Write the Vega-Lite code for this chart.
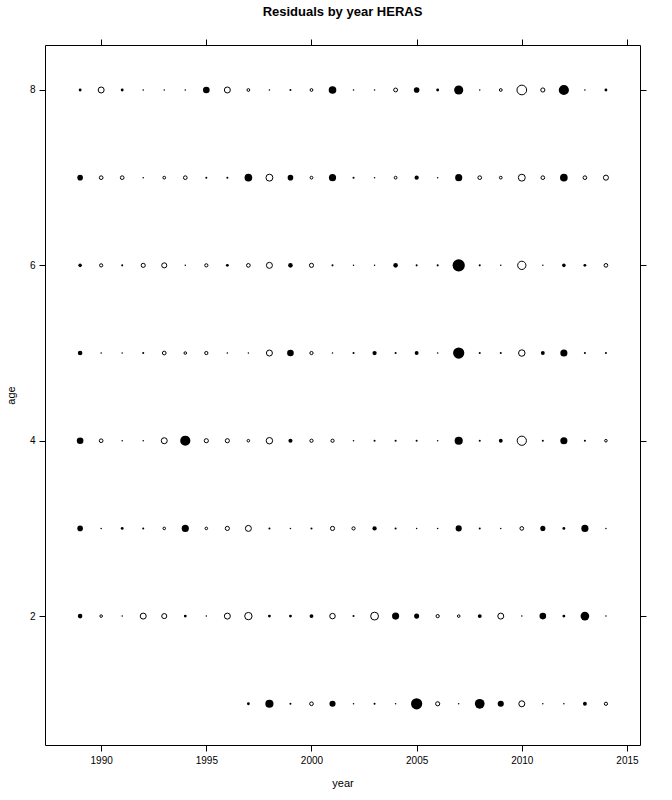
{
  "$schema": "https://vega.github.io/schema/vega-lite/v6.json",
  "width": 595,
  "height": 700,
  "autosize": {"type": "none"},
  "padding": {"left": 45, "top": 45, "right": 32, "bottom": 55},
  "title": {"text": "Residuals by year HERAS", "font": "Liberation Sans", "fontSize": 13, "fontWeight": "bold", "color": "black", "anchor": "middle", "offset": 20},
  "data": {"values": [
    {"year":1989,"age":8,"res":0.28},{"year":1990,"age":8,"res":-0.65},{"year":1991,"age":8,"res":0.28},{"year":1992,"age":8,"res":0.15},{"year":1993,"age":8,"res":0.15},{"year":1994,"age":8,"res":0.15},{"year":1995,"age":8,"res":0.65},{"year":1996,"age":8,"res":-0.65},{"year":1997,"age":8,"res":-0.3},{"year":1998,"age":8,"res":0.15},{"year":1999,"age":8,"res":0.2},{"year":2000,"age":8,"res":-0.3},{"year":2001,"age":8,"res":0.75},{"year":2002,"age":8,"res":0.15},{"year":2003,"age":8,"res":0.15},{"year":2004,"age":8,"res":-0.42},{"year":2005,"age":8,"res":0.55},{"year":2006,"age":8,"res":0.28},{"year":2007,"age":8,"res":0.9},{"year":2008,"age":8,"res":0.15},{"year":2009,"age":8,"res":-0.3},{"year":2010,"age":8,"res":-1.05},{"year":2011,"age":8,"res":-0.45},{"year":2012,"age":8,"res":1.0},{"year":2013,"age":8,"res":0.15},{"year":2014,"age":8,"res":0.28},
    {"year":1989,"age":7,"res":0.55},{"year":1990,"age":7,"res":-0.4},{"year":1991,"age":7,"res":-0.4},{"year":1992,"age":7,"res":0.15},{"year":1993,"age":7,"res":-0.3},{"year":1994,"age":7,"res":-0.4},{"year":1995,"age":7,"res":0.2},{"year":1996,"age":7,"res":0.2},{"year":1997,"age":7,"res":0.75},{"year":1998,"age":7,"res":-0.75},{"year":1999,"age":7,"res":0.55},{"year":2000,"age":7,"res":-0.3},{"year":2001,"age":7,"res":0.7},{"year":2002,"age":7,"res":0.2},{"year":2003,"age":7,"res":0.15},{"year":2004,"age":7,"res":-0.3},{"year":2005,"age":7,"res":0.42},{"year":2006,"age":7,"res":0.15},{"year":2007,"age":7,"res":0.7},{"year":2008,"age":7,"res":-0.4},{"year":2009,"age":7,"res":-0.3},{"year":2010,"age":7,"res":-0.75},{"year":2011,"age":7,"res":-0.4},{"year":2012,"age":7,"res":0.75},{"year":2013,"age":7,"res":-0.4},{"year":2014,"age":7,"res":-0.55},
    {"year":1989,"age":6,"res":0.35},{"year":1990,"age":6,"res":-0.35},{"year":1991,"age":6,"res":0.2},{"year":1992,"age":6,"res":-0.45},{"year":1993,"age":6,"res":-0.55},{"year":1994,"age":6,"res":0.15},{"year":1995,"age":6,"res":-0.35},{"year":1996,"age":6,"res":0.28},{"year":1997,"age":6,"res":-0.4},{"year":1998,"age":6,"res":-0.65},{"year":1999,"age":6,"res":0.45},{"year":2000,"age":6,"res":-0.45},{"year":2001,"age":6,"res":0.2},{"year":2002,"age":6,"res":0.15},{"year":2003,"age":6,"res":0.15},{"year":2004,"age":6,"res":0.45},{"year":2005,"age":6,"res":0.2},{"year":2006,"age":6,"res":0.2},{"year":2007,"age":6,"res":1.2},{"year":2008,"age":6,"res":0.2},{"year":2009,"age":6,"res":0.15},{"year":2010,"age":6,"res":-0.9},{"year":2011,"age":6,"res":0.15},{"year":2012,"age":6,"res":0.35},{"year":2013,"age":6,"res":0.28},{"year":2014,"age":6,"res":-0.4},
    {"year":1989,"age":5,"res":0.45},{"year":1990,"age":5,"res":0.15},{"year":1991,"age":5,"res":0.15},{"year":1992,"age":5,"res":0.2},{"year":1993,"age":5,"res":-0.4},{"year":1994,"age":5,"res":-0.28},{"year":1995,"age":5,"res":-0.35},{"year":1996,"age":5,"res":0.15},{"year":1997,"age":5,"res":0.15},{"year":1998,"age":5,"res":-0.65},{"year":1999,"age":5,"res":0.65},{"year":2000,"age":5,"res":-0.35},{"year":2001,"age":5,"res":0.15},{"year":2002,"age":5,"res":0.2},{"year":2003,"age":5,"res":0.42},{"year":2004,"age":5,"res":0.2},{"year":2005,"age":5,"res":0.38},{"year":2006,"age":5,"res":0.15},{"year":2007,"age":5,"res":1.1},{"year":2008,"age":5,"res":0.2},{"year":2009,"age":5,"res":0.2},{"year":2010,"age":5,"res":-0.7},{"year":2011,"age":5,"res":0.38},{"year":2012,"age":5,"res":0.7},{"year":2013,"age":5,"res":0.2},{"year":2014,"age":5,"res":0.2},
    {"year":1989,"age":4,"res":0.65},{"year":1990,"age":4,"res":-0.4},{"year":1991,"age":4,"res":0.15},{"year":1992,"age":4,"res":0.15},{"year":1993,"age":4,"res":-0.65},{"year":1994,"age":4,"res":1.0},{"year":1995,"age":4,"res":-0.45},{"year":1996,"age":4,"res":-0.45},{"year":1997,"age":4,"res":-0.28},{"year":1998,"age":4,"res":-0.7},{"year":1999,"age":4,"res":0.4},{"year":2000,"age":4,"res":-0.35},{"year":2001,"age":4,"res":-0.35},{"year":2002,"age":4,"res":0.15},{"year":2003,"age":4,"res":0.2},{"year":2004,"age":4,"res":0.2},{"year":2005,"age":4,"res":0.2},{"year":2006,"age":4,"res":0.15},{"year":2007,"age":4,"res":0.8},{"year":2008,"age":4,"res":0.2},{"year":2009,"age":4,"res":0.38},{"year":2010,"age":4,"res":-1.0},{"year":2011,"age":4,"res":0.2},{"year":2012,"age":4,"res":0.7},{"year":2013,"age":4,"res":0.2},{"year":2014,"age":4,"res":-0.28},
    {"year":1989,"age":3,"res":0.55},{"year":1990,"age":3,"res":0.15},{"year":1991,"age":3,"res":0.28},{"year":1992,"age":3,"res":0.2},{"year":1993,"age":3,"res":-0.28},{"year":1994,"age":3,"res":0.7},{"year":1995,"age":3,"res":-0.28},{"year":1996,"age":3,"res":-0.45},{"year":1997,"age":3,"res":-0.65},{"year":1998,"age":3,"res":0.2},{"year":1999,"age":3,"res":0.15},{"year":2000,"age":3,"res":0.2},{"year":2001,"age":3,"res":-0.45},{"year":2002,"age":3,"res":-0.35},{"year":2003,"age":3,"res":0.42},{"year":2004,"age":3,"res":0.2},{"year":2005,"age":3,"res":0.15},{"year":2006,"age":3,"res":0.15},{"year":2007,"age":3,"res":0.6},{"year":2008,"age":3,"res":0.2},{"year":2009,"age":3,"res":0.15},{"year":2010,"age":3,"res":-0.4},{"year":2011,"age":3,"res":0.5},{"year":2012,"age":3,"res":0.28},{"year":2013,"age":3,"res":0.7},{"year":2014,"age":3,"res":0.15},
    {"year":1989,"age":2,"res":0.45},{"year":1990,"age":2,"res":-0.28},{"year":1991,"age":2,"res":0.15},{"year":1992,"age":2,"res":-0.65},{"year":1993,"age":2,"res":-0.55},{"year":1994,"age":2,"res":0.28},{"year":1995,"age":2,"res":0.15},{"year":1996,"age":2,"res":-0.65},{"year":1997,"age":2,"res":-0.8},{"year":1998,"age":2,"res":0.28},{"year":1999,"age":2,"res":0.28},{"year":2000,"age":2,"res":0.38},{"year":2001,"age":2,"res":-0.6},{"year":2002,"age":2,"res":0.2},{"year":2003,"age":2,"res":-0.85},{"year":2004,"age":2,"res":0.7},{"year":2005,"age":2,"res":0.5},{"year":2006,"age":2,"res":-0.35},{"year":2007,"age":2,"res":-0.28},{"year":2008,"age":2,"res":0.38},{"year":2009,"age":2,"res":-0.65},{"year":2010,"age":2,"res":0.15},{"year":2011,"age":2,"res":0.65},{"year":2012,"age":2,"res":0.28},{"year":2013,"age":2,"res":0.85},{"year":2014,"age":2,"res":0.15},
    {"year":1997,"age":1,"res":0.28},{"year":1998,"age":1,"res":0.8},{"year":1999,"age":1,"res":0.2},{"year":2000,"age":1,"res":-0.4},{"year":2001,"age":1,"res":0.6},{"year":2002,"age":1,"res":0.15},{"year":2003,"age":1,"res":0.2},{"year":2004,"age":1,"res":0.15},{"year":2005,"age":1,"res":1.1},{"year":2006,"age":1,"res":-0.45},{"year":2007,"age":1,"res":0.15},{"year":2008,"age":1,"res":0.95},{"year":2009,"age":1,"res":0.6},{"year":2010,"age":1,"res":-0.65},{"year":2011,"age":1,"res":0.15},{"year":2012,"age":1,"res":0.15},{"year":2013,"age":1,"res":0.38},{"year":2014,"age":1,"res":-0.35}
  ]},
  "layer": [
    {
      "transform": [{"filter": "datum.res > 0"}],
      "mark": {"type": "point", "shape": "circle", "filled": true, "color": "black", "opacity": 1, "strokeWidth": 0},
      "encoding": {
        "x": {"field": "year", "type": "quantitative", "scale": {"domain": [1987.33, 2015.62], "nice": false, "zero": false},
              "axis": {"orient": "bottom", "values": [1990, 1995, 2000, 2005, 2010, 2015], "format": "d", "title": "year", "labelPadding": 4, "titlePadding": 12}},
        "y": {"field": "age", "type": "quantitative", "scale": {"domain": [0.53, 8.513], "nice": false, "zero": false},
              "axis": {"orient": "left", "values": [2, 4, 6, 8], "format": "d", "title": "age", "labelPadding": 4, "titlePadding": 13}},
        "size": {"field": "res", "type": "quantitative", "scale": {"type": "pow", "exponent": 2, "domain": [0, 1], "range": [0, 104], "clamp": false}, "legend": null}
      }
    },
    {
      "transform": [{"filter": "datum.res < 0"}],
      "mark": {"type": "point", "shape": "circle", "filled": false, "stroke": "black", "strokeWidth": 1, "opacity": 1, "fill": "white"},
      "encoding": {
        "x": {"field": "year", "type": "quantitative",
              "axis": {"orient": "top", "values": [1990, 1995, 2000, 2005, 2010, 2015], "labels": false, "title": null}},
        "y": {"field": "age", "type": "quantitative",
              "axis": {"orient": "right", "values": [2, 4, 6, 8], "labels": false, "title": null}},
        "size": {"field": "res", "type": "quantitative", "scale": {"type": "pow", "exponent": 2, "domain": [0, -1], "range": [0, 85], "clamp": false}, "legend": null}
      }
    }
  ],
  "resolve": {"axis": {"x": "independent", "y": "independent"}, "scale": {"size": "independent"}},
  "config": {
    "view": {"stroke": "black", "strokeWidth": 1},
    "axis": {"grid": false, "domain": false, "ticks": true, "tickColor": "black", "tickSize": 6, "tickWidth": 1,
             "labelFont": "Liberation Sans", "labelFontSize": 10, "labelColor": "black",
             "titleFont": "Liberation Sans", "titleFontSize": 11, "titleFontWeight": "normal", "titleColor": "black"}
  }
}
